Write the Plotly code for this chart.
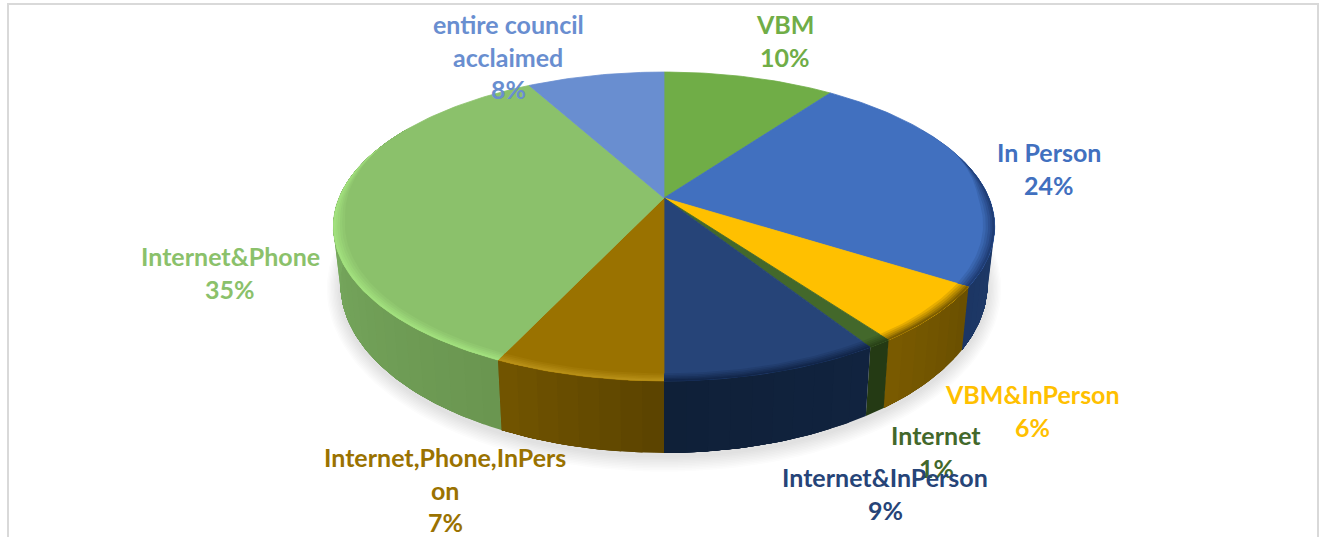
import numpy as np
import plotly.graph_objects as go

# ---- data ----
categories = ["VBM", "In Person", "VBM&InPerson", "Internet", "Internet&InPerson",
              "Internet,Phone,InPerson", "Internet&Phone", "entire council acclaimed"]
values = [10, 24, 6, 1, 9, 7, 35, 8]

# ---- styles ----
top_colors = ["#70ad47", "#4170bf", "#ffc000", "#43682b", "#264478", "#9a7200", "#8bc16b", "#698ed0"]
wall_start = ["#4a7330", "#21406f", "#6a4f00", "#243a14", "#11233f", "#5a4300", "#6a9550", "#3f5a8c"]
wall_end = ["#4a7330", "#1c3664", "#7a5b00", "#243a14", "#0f2038", "#735500", "#7fb667", "#3f5a8c"]
bevel_colors = ["#70ad47", "#1f3d75", "#7d5d00", "#2a4318", "#12264a", "#b89018", "#a2e07e", "#698ed0"]
label_lines = [["VBM"], ["In Person"], ["VBM&InPerson"], ["Internet"], ["Internet&InPerson"],
               ["Internet,Phone,InPers", "on"], ["Internet&Phone"], ["entire council", "acclaimed"]]
label_x = [785, 1049, 1032, 936, 885, 445, 230, 508]
label_y = [24, 152, 394, 435, 477, 457, 256, 24]
LINE = 32.5
FONT = "Lato, Carlito, Calibri, sans-serif"
FS = 25

# ---- perspective model of the tilted disc ----
CX, K = 664.0, 0.1845
TOP = dict(cy=198.0, R=325.0, B=149.2)
BOT = dict(cy=253.0, R=318.0, B=163.0)


def proj(theta_deg, r, m):
    t = np.radians(theta_deg)
    u, v = r * np.sin(t), r * np.cos(t)
    w = 1 + K * v
    return CX + m["R"] * u / w, m["cy"] - m["B"] * v / w


def hex2rgb(h):
    return np.array([int(h[i:i + 2], 16) for i in (1, 3, 5)], float)


def mix(a, b, f):
    c = hex2rgb(a) * (1 - f) + hex2rgb(b) * f
    return "rgb(%d,%d,%d)" % tuple(c.round())


fig = go.Figure()


def poly(x, y, fill, line=None):
    fig.add_trace(go.Scatter(
        x=list(x) + [x[0]], y=list(y) + [y[0]], mode="lines", fill="toself", fillcolor=fill,
        line=dict(color=line or "rgba(0,0,0,0)", width=0.8 if line else 0),
        hoverinfo="skip", showlegend=False))


edges = np.concatenate([[0], np.cumsum(values)]) / np.sum(values) * 360.0

# soft shadow
circle = np.linspace(0, 360, 181)
bx, by = proj(circle, 1.0, BOT)
sc, sy0 = 264.0, 6.0
for i in range(10):
    grow = 1 + (10 - i) * 0.0042
    poly(CX + (bx - CX) * grow, sc + sy0 * 0.5 + (by - sc) * grow * (1 + (10 - i) * 0.004),
         "rgba(60,60,60,0.017)")

# side walls: each gradient step is painted from its own start to the slice end,
# so the next step covers it and no seams appear
for i in range(len(values)):
    a0, a1 = max(edges[i], 60), min(edges[i + 1], 300)
    if a1 <= a0:
        continue
    n = max(1, int((a1 - a0) / 3))
    steps = np.linspace(a0, a1, n + 1)
    for j in range(n):
        arc = np.linspace(steps[j], a1, max(3, int(a1 - steps[j]) + 2))
        tx, ty = proj(arc, 1.0, TOP)
        ux, uy = proj(arc[::-1], 1.0, BOT)
        f = (j + 0.5) / n
        poly(np.r_[tx, ux], np.r_[ty, uy], mix(wall_start[i], wall_end[i], f))

# top faces
for i in range(len(values)):
    arc = np.linspace(edges[i], edges[i + 1], max(3, int(edges[i + 1] - edges[i]) + 2))
    tx, ty = proj(arc, 1.0, TOP)
    poly(np.r_[CX, tx], np.r_[TOP["cy"], ty], top_colors[i], top_colors[i])

# bevel along the front rim
BANDS = [0.034, 0.026, 0.019, 0.012, 0.006]
for i in range(len(values)):
    a0, a1 = max(edges[i], 72), min(edges[i + 1], 292)
    if a1 <= a0:
        continue
    arc = np.linspace(a0, a1, max(3, int(a1 - a0) + 2))
    taper = np.clip(np.minimum((arc - 72) / 18, (292 - arc) / 30), 0, 1)
    for b, width in enumerate(BANDS):
        ox, oy = proj(arc, 1.0, TOP)
        ix, iy = proj(arc, 1 - width * taper, TOP)
        poly(np.r_[ox, ix[::-1]], np.r_[oy, iy[::-1]], mix(top_colors[i], bevel_colors[i], (b + 1) / len(BANDS)))

# labels
annotations = []
for i in [0, 1, 2, 3, 4, 5, 6, 7]:
    lines = label_lines[i] + [f"{values[i]}%"]
    for k, text in enumerate(lines):
        annotations.append(dict(
            x=label_x[i], y=label_y[i] + k * LINE, text=text, showarrow=False, xref="x", yref="y",
            xanchor="center", yanchor="middle",
            font=dict(family=FONT, size=FS, color=top_colors[i], weight="bold")))

frame = dict(type="line", xref="x", yref="y", line=dict(color="#d9d9d9", width=2), layer="above")
shapes = [
    dict(frame, x0=7, x1=1319, y0=4, y1=4),
    dict(frame, x0=8, x1=8, y0=3, y1=537),
    dict(frame, x0=1318, x1=1318, y0=3, y1=537),
]

fig.update_layout(
    width=1319, height=537, margin=dict(l=0, r=0, t=0, b=0),
    paper_bgcolor="white", plot_bgcolor="white", showlegend=False,
    xaxis=dict(range=[0, 1319], visible=False, fixedrange=True),
    yaxis=dict(range=[537, 0], visible=False, fixedrange=True),
    annotations=annotations, shapes=shapes)

fig.write_html("out.html", config=dict(displayModeBar=False),
               post_script="document.body.style.margin='0';document.body.style.overflow='hidden';")
